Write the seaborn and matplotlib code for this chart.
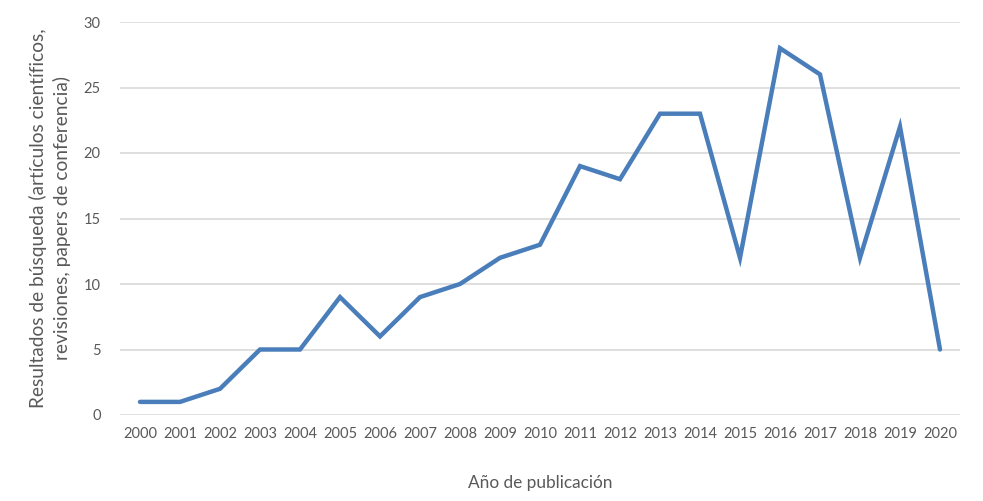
import matplotlib
matplotlib.use("Agg")
import matplotlib.pyplot as plt
import seaborn as sns
import pandas as pd

years = ["2000", "2001", "2002", "2003", "2004", "2005", "2006", "2007", "2008", "2009", "2010",
         "2011", "2012", "2013", "2014", "2015", "2016", "2017", "2018", "2019", "2020"]
results = [1, 1, 2, 5, 5, 9, 6, 9, 10, 12, 13, 19, 18, 23, 23, 12, 28, 26, 12, 22, 5]
y_ticks = [0, 5, 10, 15, 20, 25, 30]

sns.set_theme(style="white")
plt.rcParams['font.family'] = ['Lato', 'DejaVu Sans']

df = pd.DataFrame({"year": years, "results": results})

fig = plt.figure(figsize=(9.83, 5.01), dpi=100)
ax = fig.add_axes([120/983, 1-415/501, 840/983, (415-22)/501])

sns.lineplot(data=df, x="year", y="results", ax=ax, color="#4a7ebb", linewidth=3.2,
             sort=False, solid_capstyle="round", solid_joinstyle="miter")

ax.set_xlim(-0.5, len(years) - 0.5)
ax.set_ylim(0, 30)
ax.set_yticks(y_ticks)
ax.yaxis.grid(True, color="#d9d9d9", linewidth=1.2)
ax.xaxis.grid(False)
ax.set_axisbelow(True)
for s in ax.spines.values():
    s.set_visible(False)
ax.tick_params(axis="both", colors="#595959", labelsize=10.5, length=0)
ax.tick_params(axis="y", pad=14)
ax.tick_params(axis="x", pad=9)

ax.set_xlabel("Año de publicación", color="#595959", fontsize=12.4, labelpad=24)
ax.set_ylabel("Resultados de búsqueda (artículos científicos,\nrevisiones, papers de conferencia)",
              color="#595959", fontsize=13.8, labelpad=9, linespacing=1.4)

fig.savefig("out.png", dpi=100)
